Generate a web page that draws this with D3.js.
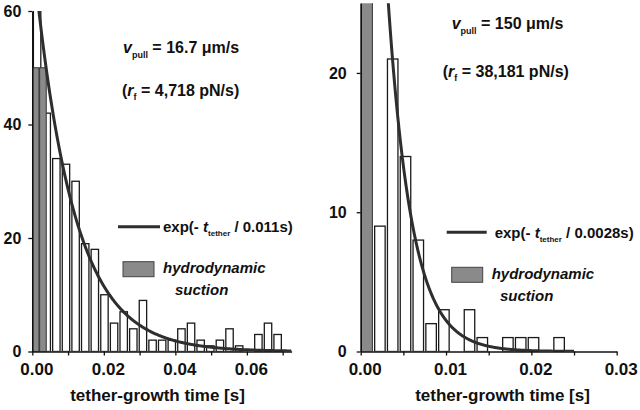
<!DOCTYPE html>
<html><head><meta charset="utf-8">
<script src="https://cdn.jsdelivr.net/npm/d3@7"></script>
<style>
body{margin:0;background:#fff}
svg{display:block}
text{font-family:"Liberation Sans",Arial,sans-serif;font-weight:bold;fill:#111}
</style>
</head><body>
<svg id="c" width="640" height="410"></svg>
<script>
// ---------- DATA ----------
// Left panel: v_pull = 16.7 um/s
const leftBinWidth = 0.00269;
const leftCounts = [62, 42, 34, 33, 30, 19, 18, 10, 5, 7, 4, 9, 2, 2, 2, 4, 5, 2, 1, 2, 4, 1, 0, 3, 5, 3];
const leftSuctionStarts = [0, 0.00205];
const leftSuctionWidth = 0.00185;
const leftSuctionCounts = [50, 50];
const leftFitA = 71, leftFitTau = 0.011;
const leftXTicks = [0, 0.01, 0.02, 0.03, 0.04, 0.05, 0.06, 0.07];
const leftXLabels = ["0.00", "", "0.02", "", "0.04", "", "0.06", ""];
const leftYTicks = [0, 20, 40, 60];

// Right panel: v_pull = 150 um/s
const rightBinWidth = 0.0015;
const rightCounts = [null, 9, 21, 14, 8, 2, 3, 0, 3, 1, 0, 1, 1, 1, 0, 1];
const rightSuctionStarts = [0];
const rightSuctionWidth = 0.00137;
const rightSuctionCounts = [27];
const rightFitA = 79.5, rightFitTau = 0.0028;
const rightXTicks = [0, 0.005, 0.01, 0.015, 0.02, 0.025, 0.03];
const rightXLabels = ["0.00", "", "0.01", "", "0.02", "", "0.03"];
const rightYTicks = [0, 10, 20];

const xTitle = "tether-growth time [s]";

// ---------- DRAW ----------
const svg = d3.select("#c");
const GRAY = "#8a8a8a", LINE = "#2e2e2e", EDGE = "#1a1a1a";

function panel(o) {
  const x = d3.scaleLinear().domain(o.xDomain).range(o.xRange);
  const y = d3.scaleLinear().domain(o.yDomain).range(o.yRange);
  const g = svg.append("g");
  const clipId = "clip" + o.id;
  svg.append("clipPath").attr("id", clipId).append("rect")
    .attr("x", o.xRange[0]).attr("y", o.yRange[1])
    .attr("width", o.xRange[1] - o.xRange[0]).attr("height", o.yRange[0] - o.yRange[1]);
  const plot = g.append("g").attr("clip-path", `url(#${clipId})`);

  const bw = o.binWidth;
  const barW = o.barFrac * (x(bw) - x(0));
  const bins = o.counts.map((v, i) => ({i, v})).filter(d => d.v);
  plot.selectAll("rect.bar").data(bins).enter().append("rect").attr("class", "bar")
    .attr("x", d => x((d.i + 0.5) * bw) - barW / 2)
    .attr("width", barW)
    .attr("y", d => y(d.v))
    .attr("height", d => y(0) - y(d.v))
    .attr("fill", "#fff").attr("stroke", EDGE).attr("stroke-width", 1.3);

  const suc = o.sucCounts.map((v, i) => ({v, s: o.sucStarts[i]}));
  plot.selectAll("rect.suc").data(suc).enter().append("rect").attr("class", "suc")
    .attr("x", d => x(d.s))
    .attr("width", x(o.sucWidth) - x(0))
    .attr("y", d => y(d.v))
    .attr("height", d => y(0) - y(d.v))
    .attr("fill", GRAY).attr("stroke", "#333").attr("stroke-width", 1);

  const ts = d3.range(0, o.fitEnd, o.fitEnd / 500).concat([o.fitEnd]);
  plot.append("path").datum(ts)
    .attr("d", d3.line().x(t => x(t)).y(t => y(o.fitA * Math.exp(-t / o.fitTau))))
    .attr("fill", "none").attr("stroke", LINE).attr("stroke-width", 3);

  // axes
  const xa = g.append("g").attr("transform", `translate(0,${o.yRange[0]})`)
    .call(d3.axisBottom(x).tickValues(o.xTicks).tickSize(4).tickSizeOuter(0)
      .tickFormat((d, i) => o.xLabels[i]));
  xa.select(".domain").attr("stroke", "#111").attr("stroke-width", 1.6);
  xa.selectAll(".tick line").attr("stroke", "#111").attr("stroke-width", 1.3);
  xa.selectAll(".tick text").attr("y", 0).attr("dy", 0).attr("dx", 4)
    .attr("transform", `translate(0,${375 - o.yRange[0]})`)
    .style("font-size", "17px").style("font-family", "'Liberation Sans',Arial,sans-serif").style("font-weight", "bold").attr("fill", "#111");

  const ya = g.append("g").attr("transform", `translate(${o.xRange[0]},0)`)
    .call(d3.axisLeft(y).tickValues(o.yTicks).tickSize(4).tickSizeOuter(0).tickPadding(o.yPad)
      .tickFormat(d3.format("d")));
  ya.select(".domain").attr("stroke", "#111").attr("stroke-width", 1.6);
  ya.selectAll(".tick line").attr("stroke", "#111").attr("stroke-width", 1.3);
  ya.selectAll(".tick text").style("font-size", "16px")
    .style("font-family", "'Liberation Sans',Arial,sans-serif").style("font-weight", "bold").attr("fill", "#111");

  g.append("text").attr("x", o.titleX).attr("y", 401).attr("text-anchor", "middle")
    .style("font-size", "17px").text(xTitle);

  // annotations
  const t1 = g.append("text").attr("x", o.vX).attr("y", o.vY).style("font-size", "16px");
  t1.append("tspan").style("font-style", "italic").text("v");
  t1.append("tspan").attr("dy", 5).style("font-size", "9px").text("pull");
  t1.append("tspan").attr("dy", -5).text(" = " + o.vText);

  const t2 = g.append("text").attr("x", o.rX).attr("y", o.rY).style("font-size", "16px");
  t2.append("tspan").text("(");
  t2.append("tspan").style("font-style", "italic").text("r");
  t2.append("tspan").attr("dy", 4).style("font-size", "9px").text("f");
  t2.append("tspan").attr("dy", -4).text(" = " + o.rText + ")");

  // legend
  g.append("line").attr("x1", o.legX1).attr("x2", o.legX2).attr("y1", o.legY).attr("y2", o.legY)
    .attr("stroke", LINE).attr("stroke-width", 3);
  const t3 = g.append("text").attr("x", o.legX2 + o.legGap).attr("y", o.legY + 5.5).style("font-size", "15px");
  t3.append("tspan").text("exp(- ");
  t3.append("tspan").style("font-style", "italic").text("t");
  t3.append("tspan").attr("dy", 4).style("font-size", "8px").text("tether");
  t3.append("tspan").attr("dy", -4).text(" / " + o.tauText + ")");

  g.append("rect").attr("x", o.boxX).attr("y", o.boxY).attr("width", 31).attr("height", 15)
    .attr("fill", GRAY).attr("stroke", "#444").attr("stroke-width", 1);
  g.append("text").attr("x", o.hX).attr("y", o.hY).style("font-size", "15px").style("font-style", "italic")
    .text("hydrodynamic");
  g.append("text").attr("x", o.sX).attr("y", o.hY + 22).style("font-size", "15px").style("font-style", "italic")
    .text("suction");
}

panel({
  id: "L", xDomain: [0, 0.0725], xRange: [32.3, 291.6], yDomain: [0, 60], yRange: [351.5, 11],
  binWidth: leftBinWidth, counts: leftCounts, barFrac: 0.77,
  sucStarts: leftSuctionStarts, sucWidth: leftSuctionWidth, sucCounts: leftSuctionCounts,
  fitA: leftFitA, fitTau: leftFitTau, fitEnd: 0.0725,
  xTicks: leftXTicks, xLabels: leftXLabels, yTicks: leftYTicks, yPad: 7,
  titleX: 157.5,
  vX: 123, vY: 53, vText: "16.7 \u03bcm/s", rX: 122, rY: 96, rText: "4,718 pN/s",
  legX1: 118, legX2: 160, legY: 226.7, legGap: 3, tauText: "0.011s",
  boxX: 123, boxY: 261.7, hX: 163, hY: 273, sX: 175
});

panel({
  id: "R", xDomain: [0, 0.03], xRange: [360.7, 616.7], yDomain: [0, 25], yRange: [351.5, 3.3],
  binWidth: rightBinWidth, counts: rightCounts, barFrac: 0.82,
  sucStarts: rightSuctionStarts, sucWidth: rightSuctionWidth, sucCounts: rightSuctionCounts,
  fitA: rightFitA, fitTau: rightFitTau, fitEnd: 0.025,
  xTicks: rightXTicks, xLabels: rightXLabels, yTicks: rightYTicks, yPad: 10,
  titleX: 502.5,
  vX: 451.7, vY: 29, vText: "150 \u03bcm/s", rX: 442.7, rY: 77, rText: "38,181 pN/s",
  legX1: 446.7, legX2: 486.7, legY: 232.3, legGap: 8, tauText: "0.0028s",
  boxX: 451.7, boxY: 267.3, hX: 491.7, hY: 279, sX: 500
});
</script>
</body></html>
